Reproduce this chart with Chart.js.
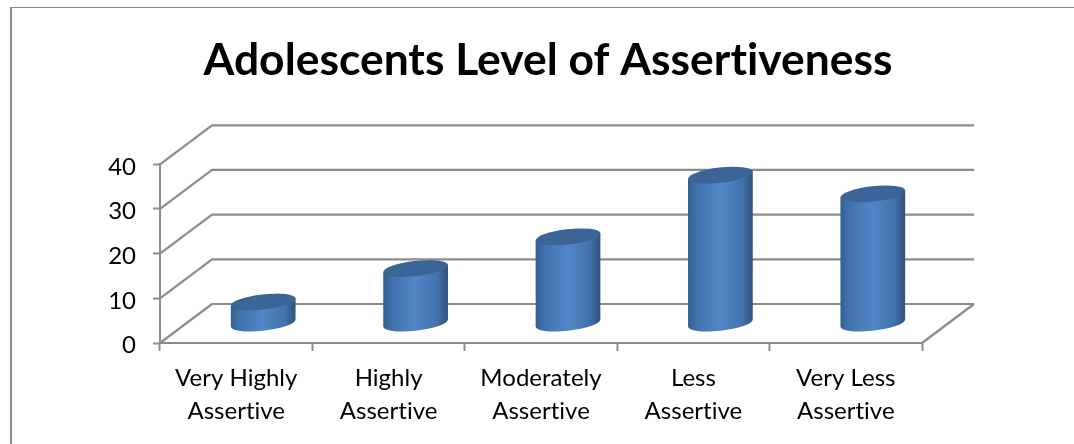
<!DOCTYPE html>
<html><head><meta charset="utf-8">
<style>
html,body{margin:0;padding:0;background:#fff;width:1074px;height:444px;overflow:hidden}
#wrap{position:relative;width:1074px;height:444px;overflow:hidden}
canvas{position:absolute;left:0;top:0}
.edgeT{position:absolute;left:10px;top:7px;width:1064px;height:1px;background:#8a8a8a}
.edgeL{position:absolute;left:10px;top:7px;width:2px;height:437px;background:#8a8a8a}
</style>
<script src="https://cdn.jsdelivr.net/npm/chart.js@4"></script>
</head><body>
<div id="wrap"><div class="edgeT"></div><div class="edgeL"></div>
<canvas id="c" width="1096" height="444"></canvas></div>
<script>
const categories = [["Very Highly","Assertive"],["Highly","Assertive"],["Moderately","Assertive"],["Less","Assertive"],["Very Less","Assertive"]];
const values = [4.8, 12.3, 19.4, 33.2, 29];
const yTicks = [0, 10, 20, 30, 40];
const titleText = "Adolescents Level of Assertiveness";

const DX = 52, DY = 39, GRID = '#8c8c8c';

const setup = {
  id: 'setup',
  afterLayout(chart) {
    chart.titleBlock.left = 0;
    chart.titleBlock.right = chart.width;
  },
  beforeDraw(chart) {
    chart.ctx.letterSpacing = '0.01px';
  }
};

const walls = {
  id: 'walls',
  beforeDatasetsDraw(chart) {
    const {ctx, scales: {x, y}} = chart;
    ctx.save();
    ctx.strokeStyle = GRID; ctx.lineWidth = 2.2; ctx.lineJoin = 'round';
    yTicks.forEach(v => {
      const py = y.getPixelForValue(v);
      ctx.beginPath();
      ctx.moveTo(x.left, py);
      ctx.lineTo(x.left + DX, py - DY);
      ctx.lineTo(x.right + DX, py - DY);
      ctx.stroke();
    });
    const p0 = y.getPixelForValue(0);
    ctx.beginPath();
    ctx.moveTo(x.right, p0);
    ctx.lineTo(x.right + DX, p0 - DY);
    ctx.stroke();
    ctx.restore();
  }
};

const cylinders = {
  id: 'cylinders',
  beforeDatasetDraw(chart, args) {
    const {ctx} = chart;
    args.meta.data.forEach(bar => {
      const hw = bar.width / 2;
      const cx = bar.x + DX / 2 + 1;
      const top = bar.y - DY / 2;
      const bot = bar.base - DY / 2;
      const a = hw * 1.005, b = hw * 0.235, rot = -0.115, t0 = 0.025;
      const lift = hw * 0.115;
      const g = ctx.createLinearGradient(cx - hw, 0, cx + hw, 0);
      g.addColorStop(0, '#33608f');
      g.addColorStop(0.14, '#4272ad');
      g.addColorStop(0.5, '#5286c8');
      g.addColorStop(0.84, '#4372aa');
      g.addColorStop(1, '#30517c');
      ctx.save();
      ctx.fillStyle = g;
      ctx.beginPath();
      ctx.moveTo(cx + hw, top - lift);
      ctx.ellipse(cx, bot, a, b, rot, t0, t0 + Math.PI, false);
      ctx.lineTo(cx - hw, top + lift);
      ctx.closePath();
      ctx.fill();
      ctx.fillStyle = '#3b6497';
      ctx.beginPath();
      ctx.ellipse(cx, top, a, b, rot, 0, Math.PI * 2);
      ctx.fill();
      ctx.restore();
    });
    return false;
  }
};

new Chart(document.getElementById('c'), {
  type: 'bar',
  data: { labels: categories, datasets: [{ data: values, backgroundColor: '#4f81bd', categoryPercentage: 1, barPercentage: 0.425 }] },
  plugins: [setup, walls, cylinders],
  options: {
    responsive: false, animation: false,
    layout: { padding: { left: 0, right: 174, top: 0, bottom: 0 } },
    plugins: {
      legend: { display: false }, tooltip: { enabled: false },
      title: { display: true, text: titleText, color: '#000',
        font: { family: 'Lato', size: 44.4, weight: 'bold', lineHeight: 1.2 },
        padding: { top: 34, bottom: 77 } }
    },
    scales: {
      x: {
        afterFit: s => { s.height = 101; },
        border: { display: true, color: GRID, width: 2 },
        grid: { display: true, drawOnChartArea: false, drawTicks: true, tickLength: 8, tickColor: GRID, tickWidth: 2 },
        ticks: { color: '#000', maxRotation: 0, autoSkip: false, padding: 11, font: { family: 'Lato', size: 24, lineHeight: 1.375 } }
      },
      y: {
        min: 0, max: 40,
        afterFit: s => { s.width = 160; },
        border: { display: true, color: GRID, width: 2 },
        grid: { display: true, drawOnChartArea: false, drawTicks: true, tickLength: 7, tickColor: GRID, tickWidth: 2 },
        afterBuildTicks: s => { s.ticks = yTicks.map(v => ({ value: v })); },
        ticks: { color: '#000', padding: 17, callback: v => ['', String(v)], font: { family: 'Lato', size: 24, lineHeight: 0.21 } }
      }
    }
  }
});
</script>
</body></html>
